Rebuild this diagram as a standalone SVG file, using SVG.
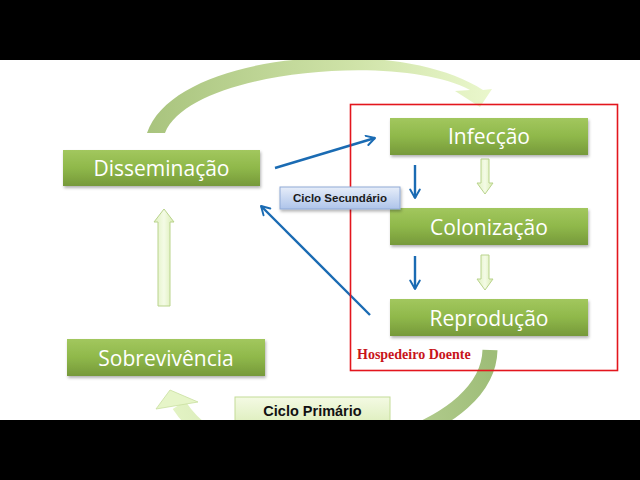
<svg xmlns="http://www.w3.org/2000/svg" width="640" height="480" viewBox="0 0 640 480">
<defs>
<linearGradient id="gBox" x1="0" y1="0" x2="0" y2="1">
<stop offset="0" stop-color="#a2c75e"/>
<stop offset="0.5" stop-color="#8fb84a"/>
<stop offset="1" stop-color="#76993a"/>
</linearGradient>
<linearGradient id="gBlue" x1="0" y1="0" x2="0" y2="1">
<stop offset="0" stop-color="#e6edf9"/>
<stop offset="1" stop-color="#aec4ea"/>
</linearGradient>
<linearGradient id="gPrim" x1="0" y1="0" x2="0" y2="1">
<stop offset="0" stop-color="#f4fae4"/>
<stop offset="1" stop-color="#dbedb8"/>
</linearGradient>
<linearGradient id="gBlk" x1="0" y1="0" x2="1" y2="0">
<stop offset="0" stop-color="#dff0bf"/>
<stop offset="0.5" stop-color="#f4fbe6"/>
<stop offset="1" stop-color="#d8ecb0"/>
</linearGradient>
<linearGradient id="gTop" gradientUnits="userSpaceOnUse" x1="150" y1="100" x2="490" y2="100">
<stop offset="0" stop-color="#a9c47e"/>
<stop offset="0.6" stop-color="#cfe3a8"/>
<stop offset="1" stop-color="#eaf7cc"/>
</linearGradient>
<linearGradient id="gBot" gradientUnits="userSpaceOnUse" x1="490" y1="350" x2="170" y2="400">
<stop offset="0" stop-color="#9ebd78"/>
<stop offset="0.5" stop-color="#c4d9a0"/>
<stop offset="1" stop-color="#e3f3c4"/>
</linearGradient>
<filter id="sh" x="-10%" y="-20%" width="120%" height="150%">
<feDropShadow dx="1" dy="2" stdDeviation="1.5" flood-color="#000" flood-opacity="0.3"/>
</filter>
<marker id="ah" viewBox="0 0 10 10" refX="8" refY="5" markerWidth="5" markerHeight="5" orient="auto" markerUnits="strokeWidth">
<path d="M1,1 L8,5 L1,9" fill="none" stroke="#1a6bb3" stroke-width="1.6" stroke-linecap="round" stroke-linejoin="round"/>
</marker>
</defs>
<style>
.box{fill:url(#gBox);filter:url(#sh)}
.lbl{font-family:"Open Sans","Liberation Sans",sans-serif;font-size:21px;fill:#ffffff;text-anchor:middle}
.blue{fill:none;stroke:#1a6bb3;stroke-width:2.4;marker-end:url(#ah)}
.blk{fill:url(#gBlk);stroke:#b9d38c;stroke-width:1}
</style>
<rect x="0" y="0" width="640" height="480" fill="#ffffff"/>

<g id="connectors">
<!-- top curved arrow -->
<path d="M147,133 C175,50 400,35 483,90 L492,89 L480,107 L455,91 L470,90 C400,52 190,70 165,133 Z" fill="url(#gTop)"/>
<!-- bottom curved arrow -->
<path d="M490,350 C488,430 330,470 250,452 C215,444 192,425 179,405" fill="none" stroke="url(#gBot)" stroke-width="15"/>
<polygon points="170,390 156,409 198,402" fill="#e6f5c8" stroke="#c9dfa0" stroke-width="0.8"/>
<!-- block arrows -->
<path class="blk" d="M481,159 H489 V183 H493 L485,194 L477,183 H481 Z"/>
<path class="blk" d="M481,255 H489 V279 H493 L485,290 L477,279 H481 Z"/>
<path class="blk" d="M158,306 H170 V222 H174 L164,209 L154,222 H158 Z"/>
<!-- blue arrows -->
<line class="blue" x1="275" y1="168" x2="375" y2="138"/>
<line class="blue" x1="370" y1="315" x2="261" y2="206"/>
<line class="blue" x1="415" y1="165" x2="415" y2="198"/>
<line class="blue" x1="415" y1="256" x2="415" y2="289"/>
</g>

<g id="hospedeiro">
<rect x="350.5" y="104.5" width="267" height="266" fill="none" stroke="#e3161d" stroke-width="1.6"/>
<text x="357" y="359" font-family="'Liberation Serif',serif" font-weight="bold" font-size="14" fill="#c8141a">Hospedeiro Doente</text>
</g>

<g id="disseminacao">
<rect class="box" x="63" y="150" width="197" height="36"/>
<text class="lbl" x="161.5" y="175.5">Disseminação</text>
</g>
<g id="infeccao">
<rect class="box" x="390" y="118" width="198" height="37"/>
<text class="lbl" x="489" y="143.5">Infecção</text>
</g>
<g id="colonizacao">
<rect class="box" x="390" y="208" width="198" height="37"/>
<text class="lbl" x="489" y="234.5">Colonização</text>
</g>
<g id="reproducao">
<rect class="box" x="390" y="299" width="198" height="37"/>
<text class="lbl" x="489" y="325.5">Reprodução</text>
</g>
<g id="sobrevivencia">
<rect class="box" x="67" y="339" width="198" height="37"/>
<text class="lbl" x="166" y="365.5">Sobrevivência</text>
</g>

<g id="ciclo-secundario">
<rect x="280" y="187" width="120" height="22" fill="url(#gBlue)" stroke="#8fa9d6" stroke-width="1" filter="url(#sh)"/>
<text x="340" y="202" font-family="'Liberation Sans',sans-serif" font-weight="bold" font-size="11.5" fill="#1a1a1a" text-anchor="middle">Ciclo Secundário</text>
</g>
<g id="ciclo-primario">
<rect x="235" y="397" width="155" height="30" fill="url(#gPrim)" stroke="#c3dc97" stroke-width="1"/>
<text x="312.5" y="416" font-family="'Liberation Sans',sans-serif" font-weight="bold" font-size="14.5" fill="#111" text-anchor="middle">Ciclo Primário</text>
</g>

<rect x="0" y="0" width="640" height="60" fill="#000"/>
<rect x="0" y="420" width="640" height="60" fill="#000"/>
</svg>
